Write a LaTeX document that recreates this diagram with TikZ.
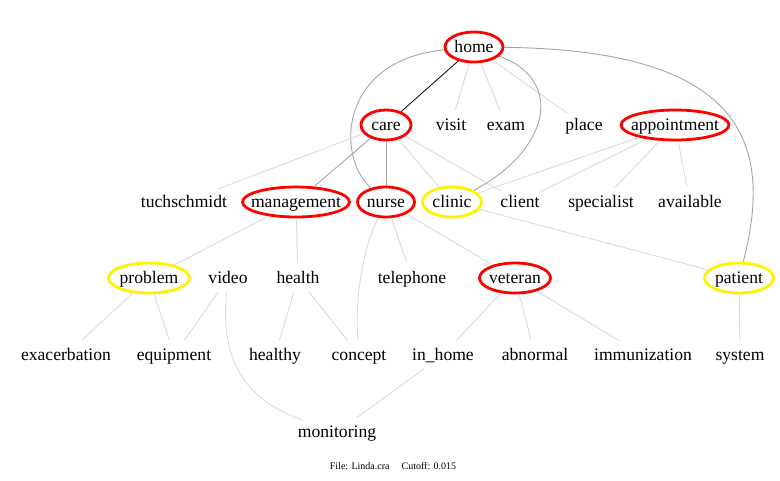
\documentclass[tikz,border=0pt]{standalone}
\usepackage{fontspec}
\setmainfont{Liberation Serif}
\usetikzlibrary{shapes.geometric}
\begin{document}
\begin{tikzpicture}[x=1pt,y=-1pt,
  lbl/.style={ellipse,inner sep=0pt,minimum height=30pt,text height=13pt,text depth=3pt,font=\fontsize{17.6}{20}\selectfont},
  ring/.style 2 args={lbl,draw=#1,line width=2.8pt,inner xsep=-40pt,minimum width=#2},
  blk/.style={draw=black,line width=0.8pt},
  mid/.style={draw=black!35,line width=0.9pt},
  lite/.style={draw=black!14,line width=0.9pt}]
\useasboundingbox (0,0) rectangle (780,480);
\fill[white] (0,0) rectangle (780,480);
% circled nodes
\node[ring={red}{58}] (home) at (474,47) {home};
\node[ring={red}{50}] (care) at (386,125) {care};
\node[ring={red}{108}] (appointment) at (675,125) {appointment};
\node[ring={red}{107}] (management) at (296,202) {management};
\node[ring={red}{57}] (nurse) at (386,202) {nurse};
\node[ring={yellow}{59}] (clinic) at (452,202) {clinic};
\node[ring={yellow}{81}] (problem) at (149,278) {problem};
\node[ring={red}{71}] (veteran) at (515,278) {veteran};
\node[ring={yellow}{69}] (patient) at (739,278) {patient};
% plain nodes
\node[lbl] (visit) at (451,125) {visit};
\node[lbl] (exam) at (506,125) {exam};
\node[lbl] (place) at (584,125) {place};
\node[lbl] (tuchschmidt) at (184,202) {tuchschmidt};
\node[lbl] (client) at (520,202) {client};
\node[lbl] (specialist) at (601,202) {specialist};
\node[lbl] (available) at (690,202) {available};
\node[lbl] (video) at (228,278) {video};
\node[lbl] (health) at (298,278) {health};
\node[lbl] (telephone) at (412,278) {telephone};
\node[lbl] (exacerbation) at (66,355) {exacerbation};
\node[lbl] (equipment) at (174,355) {equipment};
\node[lbl] (healthy) at (275,355) {healthy};
\node[lbl] (concept) at (359,355) {concept};
\node[lbl] (inhome) at (443,355) {in\_home};
\node[lbl] (abnormal) at (535,355) {abnormal};
\node[lbl] (immunization) at (643,355) {immunization};
\node[lbl] (system) at (740,355) {system};
\node[lbl] (monitoring) at (337,432) {monitoring};
\node[font=\fontsize{10}{12}\selectfont] (caption) at (393,466) {File: Linda.cra\hspace{1.2em}Cutoff: 0.015};
% edges
\draw[blk] (home) -- (care);
\draw[lite] (home) -- (visit);
\draw[lite] (home) -- (exam);
\draw[lite] (home) -- (place);
\draw[mid] (home) .. controls (340,60) and (335,155) .. (nurse);
\draw[mid] (home) .. controls (565,80) and (550,150) .. (clinic);
\draw[mid] (home) .. controls (740,50) and (775,140) .. (patient);
\draw[mid] (care) -- (nurse);
\draw[mid] (care) -- (management);
\draw[lite] (care) -- (tuchschmidt);
\draw[lite] (care) -- (clinic);
\draw[lite] (care) -- (client);
\draw[lite] (appointment) -- (clinic);
\draw[lite] (appointment) -- (client);
\draw[lite] (appointment) -- (specialist);
\draw[lite] (appointment) -- (available);
\draw[lite] (nurse) -- (telephone);
\draw[lite] (nurse) -- (veteran);
\draw[lite] (nurse) .. controls (362,250) and (355,300) .. (concept);
\draw[lite] (clinic) -- (patient);
\draw[lite] (management) -- (problem);
\draw[lite] (management) -- (health);
\draw[lite] (problem) -- (exacerbation);
\draw[lite] (problem) -- (equipment);
\draw[lite] (video) -- (equipment);
\draw[lite] (video) .. controls (220,360) and (245,400) .. (monitoring);
\draw[lite] (health) -- (healthy);
\draw[lite] (health) -- (concept);
\draw[lite] (veteran) -- (inhome);
\draw[lite] (veteran) -- (abnormal);
\draw[lite] (veteran) -- (immunization);
\draw[lite] (inhome) -- (monitoring);
\draw[lite] (patient) -- (system);
\end{tikzpicture}
\end{document}
